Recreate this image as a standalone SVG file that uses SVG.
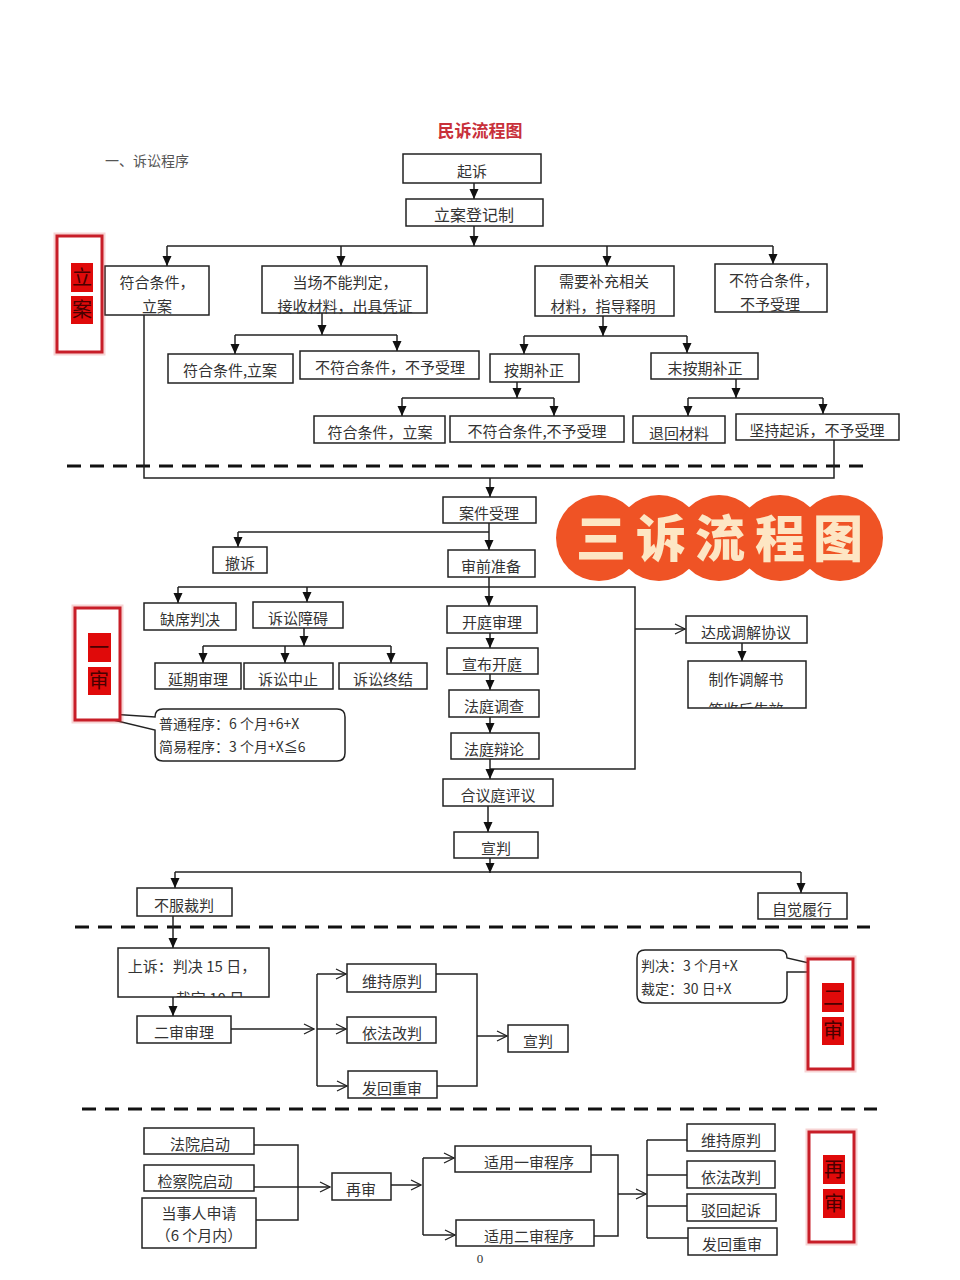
<svg xmlns="http://www.w3.org/2000/svg" width="960" height="1280" viewBox="0 0 960 1280">
<defs>
<style>
.b{fill:#fff;stroke:#222;stroke-width:1.5}
.t{font-family:"Noto Sans CJK SC","Liberation Sans",sans-serif;font-size:15px;fill:#333;text-anchor:middle}
.s{font-family:"Noto Sans CJK SC","Liberation Sans",sans-serif;font-size:14px;fill:#333}
.c{fill:none;stroke:#222;stroke-width:1.5}
.a{fill:none;stroke:#222;stroke-width:1.5;marker-end:url(#ah)}
.o{fill:none;stroke:#222;stroke-width:1.5;marker-end:url(#oh)}
.d{fill:none;stroke:#111;stroke-width:3;stroke-dasharray:14 9}
.rb{fill:#fff;stroke:#c81e28;stroke-width:3}
.rg{fill:none;stroke:#e05050;stroke-width:7;opacity:0.25}
.rs{fill:#e00a0a}
.rt{font-family:"Noto Sans CJK SC",sans-serif;font-size:20px;fill:#4a0000;text-anchor:middle}
.bt{font-family:"Noto Sans CJK SC",sans-serif;font-size:50px;font-weight:900;fill:#fde6c4;text-anchor:middle}
</style>
<marker id="ah" viewBox="0 0 10 10" refX="10" refY="5" markerWidth="10" markerHeight="10" markerUnits="userSpaceOnUse" orient="auto"><path d="M0,0.5 L10,5 L0,9.5 z" fill="#111"/></marker>
<marker id="oh" viewBox="0 0 12 12" refX="11" refY="6" markerWidth="12" markerHeight="12" markerUnits="userSpaceOnUse" orient="auto"><path d="M1,1 L11,6 L1,11" fill="none" stroke="#222" stroke-width="1.3"/></marker>
<clipPath id="clipUp"><rect x="118" y="948" width="151" height="49"/></clipPath>
<clipPath id="clipMed"><rect x="688" y="661" width="118" height="47"/></clipPath>
</defs>
<rect width="960" height="1280" fill="#fff"/>

<text x="480" y="137" style="font-family:'Noto Sans CJK SC',sans-serif;font-size:17px;font-weight:bold;fill:#c8303a;text-anchor:middle">民诉流程图</text>
<text x="105" y="166" style="font-family:'Noto Sans CJK SC',sans-serif;font-size:14px;fill:#555">一、诉讼程序</text>

<g id="connectors">
<line class="a" x1="474" y1="183" x2="474" y2="199"/>
<line class="a" x1="474" y1="226" x2="474" y2="246"/>
<line class="c" x1="167" y1="246" x2="773" y2="246"/>
<line class="a" x1="167" y1="246" x2="167" y2="266"/>
<line class="a" x1="341" y1="246" x2="341" y2="266"/>
<line class="a" x1="607" y1="246" x2="607" y2="266"/>
<line class="a" x1="773" y1="246" x2="773" y2="264"/>
<line class="a" x1="322" y1="313" x2="322" y2="335"/>
<line class="c" x1="235" y1="335" x2="397" y2="335"/>
<line class="a" x1="235" y1="335" x2="235" y2="354"/>
<line class="a" x1="397" y1="335" x2="397" y2="351"/>
<line class="a" x1="603" y1="316" x2="603" y2="336"/>
<line class="c" x1="524" y1="336" x2="687" y2="336"/>
<line class="a" x1="524" y1="336" x2="524" y2="354"/>
<line class="a" x1="687" y1="336" x2="687" y2="353"/>
<line class="a" x1="517" y1="382" x2="517" y2="398"/>
<line class="c" x1="402" y1="398" x2="554" y2="398"/>
<line class="a" x1="402" y1="398" x2="402" y2="416"/>
<line class="a" x1="554" y1="398" x2="554" y2="416"/>
<line class="a" x1="736" y1="379" x2="736" y2="398"/>
<line class="c" x1="688" y1="398" x2="823" y2="398"/>
<line class="a" x1="688" y1="398" x2="688" y2="416"/>
<line class="a" x1="823" y1="398" x2="823" y2="414"/>
<line class="d" x1="67" y1="466" x2="863" y2="466"/>
<polyline class="c" points="144,315 144,478 834,478 834,440"/>
<line class="a" x1="490" y1="478" x2="490" y2="497"/>
<line class="a" x1="489" y1="523" x2="489" y2="550"/>
<line class="c" x1="238" y1="532" x2="489" y2="532"/>
<line class="a" x1="238" y1="532" x2="238" y2="547"/>
<line class="a" x1="489" y1="577" x2="489" y2="606"/>
<polyline class="c" points="178,587 635,587 635,769 490,769"/>
<line class="a" x1="178" y1="587" x2="178" y2="603"/>
<line class="a" x1="307" y1="587" x2="307" y2="602"/>
<line class="a" x1="304" y1="628" x2="304" y2="646"/>
<line class="c" x1="203" y1="646" x2="391" y2="646"/>
<line class="a" x1="203" y1="646" x2="203" y2="663"/>
<line class="a" x1="285" y1="646" x2="285" y2="663"/>
<line class="a" x1="391" y1="646" x2="391" y2="663"/>
<line class="a" x1="490" y1="633" x2="490" y2="648"/>
<line class="a" x1="490" y1="674" x2="490" y2="690"/>
<line class="a" x1="490" y1="717" x2="490" y2="733"/>
<line class="a" x1="490" y1="759" x2="490" y2="779"/>
<line class="o" x1="635" y1="629" x2="685" y2="629"/>
<line class="a" x1="742" y1="643" x2="742" y2="661"/>
<line class="a" x1="488" y1="806" x2="488" y2="832"/>
<line class="a" x1="490" y1="858" x2="490" y2="873"/>
<line class="c" x1="175" y1="872" x2="801" y2="872"/>
<line class="a" x1="175" y1="872" x2="175" y2="888"/>
<line class="a" x1="801" y1="872" x2="801" y2="893"/>
<line class="d" x1="75" y1="927" x2="870" y2="927"/>
<line class="a" x1="173" y1="916" x2="173" y2="948"/>
<line class="a" x1="173" y1="997" x2="173" y2="1016"/>
<line class="o" x1="231" y1="1029" x2="314" y2="1029"/>
<line class="c" x1="317" y1="974" x2="317" y2="1086"/>
<line class="o" x1="317" y1="974" x2="346" y2="974"/>
<line class="o" x1="317" y1="1029" x2="346" y2="1029"/>
<line class="o" x1="317" y1="1086" x2="347" y2="1086"/>
<polyline class="c" points="436,974 477,974 477,1086 437,1086"/>
<line class="o" x1="477" y1="1036" x2="507" y2="1036"/>
<line class="d" x1="82" y1="1109" x2="877" y2="1109"/>
<polyline class="c" points="254,1145 298,1145 298,1220 256,1220"/>
<line class="o" x1="254" y1="1187" x2="330" y2="1187"/>
<line class="o" x1="391" y1="1185" x2="421" y2="1185"/>
<line class="c" x1="423" y1="1158" x2="423" y2="1235"/>
<line class="o" x1="423" y1="1158" x2="454" y2="1158"/>
<line class="o" x1="423" y1="1235" x2="455" y2="1235"/>
<polyline class="c" points="591,1155 618,1155 618,1236 594,1236"/>
<line class="o" x1="618" y1="1194" x2="646" y2="1194"/>
<line class="c" x1="647" y1="1140" x2="647" y2="1238"/>
<line class="c" x1="647" y1="1140" x2="687" y2="1140"/>
<line class="c" x1="647" y1="1175" x2="687" y2="1175"/>
<line class="c" x1="647" y1="1206" x2="687" y2="1206"/>
<line class="c" x1="647" y1="1238" x2="688" y2="1238"/>
</g>

<g id="n1"><rect class="b" x="403" y="154" width="138" height="29"/><text class="t" x="472" y="177">起诉</text></g>
<g id="n2"><rect class="b" x="406" y="199" width="137" height="27"/><text class="t" x="474" y="221" style="font-size:16px">立案登记制</text></g>
<g id="n3"><rect class="b" x="105" y="266" width="104" height="49"/><text class="t" x="157" y="288">符合条件，</text><text class="t" x="157" y="312">立案</text></g>
<g id="n4"><rect class="b" x="262" y="266" width="165" height="47"/><text class="t" x="345" y="288">当场不能判定，</text><text class="t" x="345" y="312">接收材料，出具凭证</text></g>
<g id="n5"><rect class="b" x="535" y="266" width="139" height="50"/><text class="t" x="604" y="287">需要补充相关</text><text class="t" x="603" y="312">材料，指导释明</text></g>
<g id="n6"><rect class="b" x="715" y="264" width="112" height="48"/><text class="t" x="774" y="286">不符合条件，</text><text class="t" x="770" y="310">不予受理</text></g>
<g id="n7"><rect class="b" x="168" y="354" width="125" height="29"/><text class="t" x="230" y="376">符合条件,立案</text></g>
<g id="n8"><rect class="b" x="300" y="351" width="179" height="28"/><text class="t" x="390" y="373">不符合条件，不予受理</text></g>
<g id="n9"><rect class="b" x="490" y="354" width="89" height="28"/><text class="t" x="534" y="376">按期补正</text></g>
<g id="n10"><rect class="b" x="651" y="353" width="107" height="26"/><text class="t" x="705" y="374">末按期补正</text></g>
<g id="n11"><rect class="b" x="314" y="416" width="131" height="27"/><text class="t" x="380" y="438">符合条件，立案</text></g>
<g id="n12"><rect class="b" x="450" y="416" width="174" height="26"/><text class="t" x="537" y="437">不符合条件,不予受理</text></g>
<g id="n13"><rect class="b" x="633" y="416" width="92" height="27"/><text class="t" x="679" y="439">退回材料</text></g>
<g id="n14"><rect class="b" x="736" y="414" width="163" height="26"/><text class="t" x="817" y="436">坚持起诉，不予受理</text></g>

<g id="badge">
<circle cx="599" cy="538" r="43" fill="#ef5325"/>
<circle cx="659" cy="538" r="43" fill="#ef5325"/>
<circle cx="719" cy="538" r="43" fill="#ef5325"/>
<circle cx="780" cy="538" r="43" fill="#ef5325"/>
<circle cx="840" cy="538" r="43" fill="#ef5325"/>
<text class="bt" x="601" y="557">三</text>
<text class="bt" x="661" y="557">诉</text>
<text class="bt" x="720" y="557">流</text>
<text class="bt" x="780" y="557">程</text>
<text class="bt" x="838" y="557">图</text>
</g>

<g id="n15"><rect class="b" x="443" y="497" width="93" height="26"/><text class="t" x="489" y="519">案件受理</text></g>
<g id="n16"><rect class="b" x="213" y="547" width="54" height="26"/><text class="t" x="240" y="569">撤诉</text></g>
<g id="n17"><rect class="b" x="448" y="550" width="87" height="27"/><text class="t" x="491" y="572">审前准备</text></g>
<g id="n18"><rect class="b" x="144" y="603" width="92" height="27"/><text class="t" x="190" y="625">缺席判决</text></g>
<g id="n19"><rect class="b" x="253" y="602" width="90" height="26"/><text class="t" x="298" y="624">诉讼障碍</text></g>
<g id="n20"><rect class="b" x="155" y="663" width="86" height="26"/><text class="t" x="198" y="685">延期审理</text></g>
<g id="n21"><rect class="b" x="244" y="663" width="89" height="26"/><text class="t" x="288" y="685">诉讼中止</text></g>
<g id="n22"><rect class="b" x="339" y="663" width="88" height="26"/><text class="t" x="383" y="685">诉讼终结</text></g>
<g id="n23"><rect class="b" x="447" y="606" width="90" height="27"/><text class="t" x="492" y="628">开庭审理</text></g>
<g id="n24"><rect class="b" x="447" y="648" width="91" height="26"/><text class="t" x="492" y="670">宣布开庭</text></g>
<g id="n25"><rect class="b" x="449" y="690" width="90" height="27"/><text class="t" x="494" y="712">法庭调查</text></g>
<g id="n26"><rect class="b" x="451" y="733" width="88" height="26"/><text class="t" x="494" y="755">法庭辩论</text></g>
<g id="n27"><rect class="b" x="686" y="616" width="121" height="27"/><text class="t" x="746" y="638">达成调解协议</text></g>
<g id="n28"><rect class="b" x="688" y="661" width="118" height="47"/><text class="t" x="746" y="685">制作调解书</text><text class="t" x="746" y="715" clip-path="url(#clipMed)">签收后生效</text></g>
<g id="n29"><rect class="b" x="443" y="779" width="110" height="27"/><text class="t" x="498" y="801">合议庭评议</text></g>
<g id="n30"><rect class="b" x="454" y="832" width="84" height="26"/><text class="t" x="496" y="854">宣判</text></g>
<g id="n31"><rect class="b" x="137" y="888" width="95" height="28"/><text class="t" x="184" y="911">不服裁判</text></g>
<g id="n32"><rect class="b" x="758" y="893" width="89" height="26"/><text class="t" x="802" y="915">自觉履行</text></g>

<g id="callout1">
<path class="b" d="M163,709 H337 Q345,709 345,717 V753 Q345,761 337,761 H163 Q155,761 155,753 V730 L80,712 L155,717 Q155,709 163,709 Z"/>
<text class="s" x="159" y="729">普通程序：6 个月+6+X</text>
<text class="s" x="159" y="752">简易程序：3 个月+X≦6</text>
</g>

<g id="n33"><rect class="b" x="118" y="948" width="151" height="49"/><text class="t" x="192" y="972">上诉：判决 15 日，</text><text class="t" x="210" y="1004" clip-path="url(#clipUp)">裁定 10 日</text></g>
<g id="n34"><rect class="b" x="137" y="1016" width="94" height="27"/><text class="t" x="184" y="1038">二审审理</text></g>
<g id="n35"><rect class="b" x="347" y="964" width="89" height="28"/><text class="t" x="392" y="987">维持原判</text></g>
<g id="n36"><rect class="b" x="347" y="1017" width="89" height="26"/><text class="t" x="392" y="1039">依法改判</text></g>
<g id="n37"><rect class="b" x="348" y="1071" width="89" height="27"/><text class="t" x="392" y="1094">发回重审</text></g>
<g id="n38"><rect class="b" x="508" y="1025" width="60" height="27"/><text class="t" x="538" y="1047">宣判</text></g>

<g id="callout2">
<path class="b" d="M645,950 H779 Q787,950 787,958 L848,972 L787,972 V995 Q787,1003 779,1003 H645 Q637,1003 637,995 V958 Q637,950 645,950 Z"/>
<text class="s" x="641" y="971">判决：3 个月+X</text>
<text class="s" x="641" y="994">裁定：30 日+X</text>
</g>

<g id="n39"><rect class="b" x="144" y="1128" width="110" height="26"/><text class="t" x="200" y="1150">法院启动</text></g>
<g id="n40"><rect class="b" x="144" y="1165" width="110" height="26"/><text class="t" x="195" y="1187">检察院启动</text></g>
<g id="n41"><rect class="b" x="142" y="1198" width="114" height="50"/><text class="t" x="199" y="1219">当事人申请</text><text class="t" x="199" y="1241">（6 个月内）</text></g>
<g id="n42"><rect class="b" x="332" y="1173" width="59" height="27"/><text class="t" x="361" y="1195">再审</text></g>
<g id="n43"><rect class="b" x="455" y="1146" width="136" height="26"/><text class="t" x="529" y="1168">适用一审程序</text></g>
<g id="n44"><rect class="b" x="456" y="1220" width="138" height="26"/><text class="t" x="529" y="1242">适用二审程序</text></g>
<g id="n45"><rect class="b" x="687" y="1124" width="88" height="27"/><text class="t" x="731" y="1146">维持原判</text></g>
<g id="n46"><rect class="b" x="687" y="1161" width="88" height="27"/><text class="t" x="731" y="1183">依法改判</text></g>
<g id="n47"><rect class="b" x="687" y="1194" width="89" height="27"/><text class="t" x="731" y="1216">驳回起诉</text></g>
<g id="n48"><rect class="b" x="688" y="1228" width="89" height="27"/><text class="t" x="732" y="1250">发回重审</text></g>

<g id="tag-lian">
<rect class="rg" x="57" y="236" width="45" height="116"/>
<rect class="rb" x="57" y="236" width="45" height="116"/>
<rect class="rs" x="71" y="263" width="22" height="29"/><text class="rt" x="82" y="285">立</text>
<rect class="rs" x="71" y="296" width="22" height="28"/><text class="rt" x="82" y="317">案</text>
</g>
<g id="tag-yishen">
<rect class="rg" x="75" y="608" width="45" height="112"/>
<rect class="rb" x="75" y="608" width="45" height="112"/>
<rect class="rs" x="88" y="633" width="23" height="29"/><text class="rt" x="99" y="655">一</text>
<rect class="rs" x="88" y="667" width="23" height="28"/><text class="rt" x="99" y="688">审</text>
</g>
<g id="tag-ershen">
<rect class="rg" x="808" y="959" width="45" height="110"/>
<rect class="rb" x="808" y="959" width="45" height="110"/>
<rect class="rs" x="822" y="983" width="22" height="29"/><text class="rt" x="833" y="1005">二</text>
<rect class="rs" x="822" y="1017" width="22" height="28"/><text class="rt" x="833" y="1038">审</text>
</g>
<g id="tag-zaishen">
<rect class="rg" x="809" y="1132" width="45" height="110"/>
<rect class="rb" x="809" y="1132" width="45" height="110"/>
<rect class="rs" x="823" y="1155" width="22" height="29"/><text class="rt" x="834" y="1177">再</text>
<rect class="rs" x="823" y="1189" width="22" height="29"/><text class="rt" x="834" y="1211">审</text>
</g>

<text x="480" y="1263" style="font-family:'Liberation Serif',serif;font-size:13px;fill:#333;text-anchor:middle">0</text>
</svg>
